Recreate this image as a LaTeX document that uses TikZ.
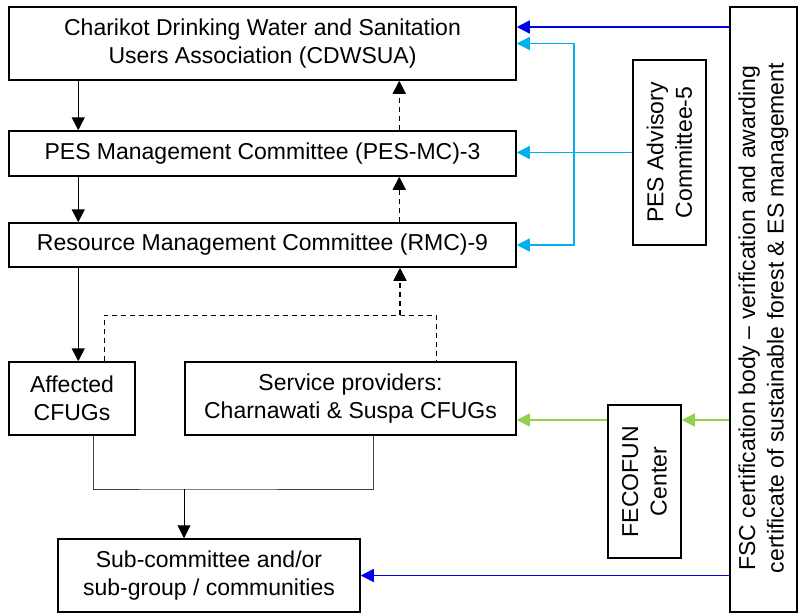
\documentclass[tikz,border=0pt]{standalone}
\usepackage{fontspec}
\setmainfont{Liberation Sans}
\usepackage{tikz}
\usetikzlibrary{arrows.meta}
\tikzset{
every picture/.style={
line width=1.5pt
}}
\definecolor{fscblue}{RGB}{0,0,235}
\definecolor{pescyan}{RGB}{0,176,240}
\definecolor{fecgreen}{RGB}{146,208,80}
\tikzset{
box/.style={draw, align=center, inner sep=0pt, font=\fontsize{23}{28.5}\selectfont},
arrowed/.style={-{Triangle[length=13pt,width=13pt]}},
twoway/.style={{Triangle[length=13pt,width=13pt]}-{Triangle[length=13pt,width=13pt]}},
dashline/.style={dash pattern=on 5pt off 4pt},
grayline/.style={black!75, line width=1pt}
}

\begin{document}
\begin{tikzpicture}[x=1pt,y=-1pt]
  \useasboundingbox (0,0) rectangle (798,613);

  \node[box, minimum width=507pt, minimum height=73pt] (cdw) at (262.5,43.5) {Charikot Drinking Water and Sanitation\\Users Association (CDWSUA)};
  \node[box, minimum width=507pt, minimum height=45pt] (pesmc) at (262.5,153.5) {PES Management Committee (PES-MC)-3};
  \node[box, minimum width=507pt, minimum height=44pt] (rmc) at (262.5,245) {Resource Management Committee (RMC)-9};
  \node[box, minimum width=126pt, minimum height=73pt] (aff) at (72,398.5) {Affected\\CFUGs};
  \node[box, minimum width=331pt, minimum height=73pt] (serv) at (350.5,398.5) {Service providers:\\Charnawati \& Suspa CFUGs};
  \node[box, minimum width=302pt, minimum height=73pt] (sub) at (209,575.5) {Sub-committee and/or\\sub-group / communities};
  \node[box, rotate=90, minimum width=185pt, minimum height=73pt] (adv) at (669.5,152.5) {PES Advisory\\Committee-5};
  \node[box, rotate=90, minimum width=153pt, minimum height=73pt] (fec) at (644.5,481.5) {FECOFUN\\Center};
  \node[box, rotate=90, minimum width=605pt, minimum height=67pt] (fsc) at (763.5,309.5) {FSC certification body -- verification and awarding\hspace*{17pt}\\certificate of sustainable forest \& ES management\hspace*{17pt}};

  % downward chain
  \draw[arrowed] ([xshift=70pt]cdw.south west) -- ([xshift=70pt]pesmc.north west);
  \draw[arrowed] ([xshift=70pt]pesmc.south west) -- ([xshift=70pt]rmc.north west);
  \draw[arrowed] ([xshift=70pt]rmc.south west) -- ([xshift=70pt]aff.north west);

  % dashed feedback
  \draw[arrowed, dashline] ([xshift=391pt]pesmc.north west) -- ([xshift=391pt]cdw.south west);
  \draw[arrowed, dashline] ([xshift=391pt]rmc.north west) -- ([xshift=391pt]pesmc.south west);
  \coordinate (dj) at (400,315);
  \draw[dashline, line width=1pt] ([xshift=96pt]aff.north west) |- (dj) -| ([xshift=252pt]serv.north west);
  \draw[arrowed, dashline] (dj) -- (dj |- rmc.south);

  % CFUGs to communities
  \coordinate (gj) at (184,489);
  \draw[grayline] ([xshift=85pt]aff.south west) |- (gj) -| ([xshift=189pt]serv.south west);
  \draw[arrowed, line width=1pt] (gj) -- (gj |- sub.north);

  % FSC body
  \coordinate (b1) at ([yshift=16.5pt]cdw.east);
  \draw[fscblue, arrowed] (fsc.north |- b1) -- (b1);
  \draw[fscblue, arrowed] (fsc.north |- sub.east) -- (sub.east);

  % advisory committee
  \coordinate (cv) at (574,153);
  \draw[pescyan, arrowed] (adv.north) -- (adv.north -| pesmc.east);
  \draw[pescyan, twoway] (cdw.east) -| (cv) |- (rmc.east);

  % FECOFUN
  \coordinate (g) at ([yshift=-21.5pt]serv.east);
  \draw[fecgreen, arrowed] (fsc.north |- g) -- (fec.south |- g);
  \draw[fecgreen, arrowed] (fec.north |- g) -- (g);
\end{tikzpicture}
\end{document}
